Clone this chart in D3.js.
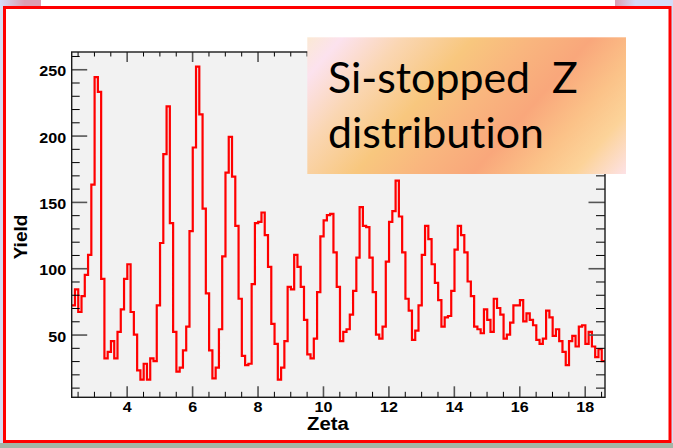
<!DOCTYPE html>
<html>
<head>
<meta charset="utf-8">
<script src="https://cdn.jsdelivr.net/npm/d3@7"></script>
<style>
  html, body { margin: 0; padding: 0; background: #fff; }
  svg { display: block; }
  .boxtitle { font-variant-ligatures: none; font-feature-settings: "liga" 0, "clig" 0; }
</style>
</head>
<body>
<div id="chart"></div>
<script>
// Si-stopped Z distribution, histogram of Zeta, 163 bins of 0.1
const xLow = 2.32, xHigh = 18.62;
const counts = [72,84,67,79,95,110,163,244,233,92,
  32,37,45,32,52,69,92,103,67,50,
  23,16,28,16,32,30,72,119,186,222,
  134,52,22,25,38,56,128,191,252,216,
  145,81,38,17,25,54,109,172,199,169,
  132,77,34,27,28,88,134,135,142,125,
  101,58,43,16,25,45,86,84,110,101,
  86,61,35,32,47,82,124,136,140,141,
  112,86,45,52,54,65,83,108,146,132,
  131,108,82,50,47,56,105,135,143,166,
  139,112,77,68,46,53,72,110,132,122,
  103,89,76,56,63,64,83,114,132,125,
  112,90,79,56,54,51,69,61,52,77,
  70,65,47,50,59,72,72,76,60,66,
  61,57,46,43,47,68,63,49,54,45,
  37,27,45,49,41,56,57,43,52,41,
  33,39,30];
const xTicks = [4, 6, 8, 10, 12, 14, 16, 18];
const yTicks = [50, 100, 150, 200, 250];
const yLow = 2.7, yHigh = 263;
const titleLines = ["Si-stopped  Z", "distribution"];

const W = 673, H = 448;
const frame = {left: 71.7, right: 605, top: 52, bottom: 397.3};

const svg = d3.select("#chart").append("svg").attr("width", W).attr("height", H);
const defs = svg.append("defs");

// page background
svg.append("rect").attr("width", W).attr("height", H).attr("fill", "#ffffff");
svg.append("rect").attr("x", 0).attr("y", 443).attr("width", W).attr("height", 5).attr("fill", "#a3b5a6");
svg.append("rect").attr("x", 0).attr("y", 0).attr("width", 3).attr("height", 443).attr("fill", "#d6dcf2");
svg.append("rect").attr("x", 671).attr("y", 0).attr("width", 2).attr("height", 443).attr("fill", "#d6dcf2");
const gl = defs.append("linearGradient").attr("id", "cornerL");
gl.append("stop").attr("offset", 0).attr("stop-color", "#d4dcf8");
gl.append("stop").attr("offset", 0.6).attr("stop-color", "#dc9fb2");
gl.append("stop").attr("offset", 1).attr("stop-color", "#dc9fb2");
const gr = defs.append("linearGradient").attr("id", "cornerR");
gr.append("stop").attr("offset", 0).attr("stop-color", "#dc9fb2");
gr.append("stop").attr("offset", 0.35).attr("stop-color", "#d4dcf8");
gr.append("stop").attr("offset", 1).attr("stop-color", "#d4dcf8");
svg.append("rect").attr("x", 0).attr("y", 0).attr("width", 41).attr("height", 6).attr("fill", "url(#cornerL)");
svg.append("rect").attr("x", 615).attr("y", 0).attr("width", 58).attr("height", 6).attr("fill", "url(#cornerR)");
svg.append("rect").attr("x", 4.5).attr("y", 7.5).attr("width", 665.5).attr("height", 434)
  .attr("fill", "#fff").attr("stroke", "#ff0000").attr("stroke-width", 3);

// scales
const x = d3.scaleLinear().domain([xLow, xHigh]).range([frame.left, frame.right]);
const y = d3.scaleLinear().domain([yLow, yHigh]).range([frame.bottom, frame.top]);
const binW = (xHigh - xLow) / counts.length;

svg.append("rect").attr("x", frame.left).attr("y", frame.top)
  .attr("width", frame.right - frame.left).attr("height", frame.bottom - frame.top)
  .attr("fill", "#f2f2f2");

// histogram outline
const pts = counts.map((c, i) => ({x: xLow + i * binW, y: c}));
pts.push({x: xHigh, y: counts[counts.length - 1]});
svg.append("path").datum(pts)
  .attr("fill", "none").attr("stroke", "#ff0000").attr("stroke-width", 2.2)
  .attr("d", d3.line().curve(d3.curveStepAfter).x(d => x(d.x)).y(d => y(d.y)));

// axes (ROOT style, ticks inside, on all four sides)
const minorX = d3.range(2.5, 18.6, 0.5).filter(v => v % 2 !== 0);
const majorX = [2].concat(xTicks).filter(v => v >= xLow);
const minorY = d3.range(10, 261, 10).filter(v => v % 50 !== 0);

function ticks(g, col, w) {
  g.select(".domain").remove();
  g.selectAll(".tick line").attr("stroke", col).attr("stroke-width", w);
}
const atBottom = `translate(0,${frame.bottom})`, atTop = `translate(0,${frame.top})`;
svg.append("g").attr("transform", atBottom)
  .call(d3.axisTop(x).tickValues(minorX).tickSize(5.5).tickFormat(""))
  .call(g => ticks(g, "#000", 1));
svg.append("g").attr("transform", atTop)
  .call(d3.axisBottom(x).tickValues(minorX).tickSize(4.5).tickFormat(""))
  .call(g => ticks(g, "#000", 1));
svg.append("g").attr("transform", atTop)
  .call(d3.axisBottom(x).tickValues(majorX).tickSize(10).tickFormat(""))
  .call(g => ticks(g, "#555", 1.6));
svg.append("g").attr("transform", atBottom)
  .call(d3.axisTop(x).tickValues(majorX).tickSize(11).tickFormat(""))
  .call(g => ticks(g, "#555", 1.6));
// x labels
svg.append("g").attr("transform", atBottom)
  .call(d3.axisBottom(x).tickValues(xTicks).tickSize(0).tickPadding(0))
  .call(g => {
    g.select(".domain").remove();
    g.selectAll(".tick text").attr("y", 0).attr("dy", null)
      .attr("transform", "translate(0,14.2) scale(1.15,1)")
      .attr("font-family", "Liberation Sans, Arial, sans-serif")
      .attr("font-weight", "bold").attr("font-size", 14).attr("fill", "#000");
  });

const atLeft = `translate(${frame.left},0)`, atRight = `translate(${frame.right},0)`;
svg.append("g").attr("transform", atLeft)
  .call(d3.axisRight(y).tickValues(minorY).tickSize(8).tickFormat(""))
  .call(g => ticks(g, "#000", 1));
svg.append("g").attr("transform", atRight)
  .call(d3.axisLeft(y).tickValues(minorY).tickSize(9).tickFormat(""))
  .call(g => ticks(g, "#000", 1));
svg.append("g").attr("transform", atRight)
  .call(d3.axisLeft(y).tickValues(yTicks).tickSize(16.5).tickFormat(""))
  .call(g => ticks(g, "#555", 1.6));
svg.append("g").attr("transform", atLeft)
  .call(d3.axisRight(y).tickValues(yTicks).tickSize(15.5).tickFormat(""))
  .call(g => ticks(g, "#555", 1.6));
// y labels
svg.append("g").attr("transform", atLeft)
  .call(d3.axisLeft(y).tickValues(yTicks).tickSize(0).tickPadding(0))
  .call(g => {
    g.select(".domain").remove();
    g.selectAll(".tick text").attr("x", 0).attr("dy", null).attr("text-anchor", "end")
      .attr("transform", "translate(-5.5,6.6) scale(1.15,1)")
      .attr("font-family", "Liberation Sans, Arial, sans-serif")
      .attr("font-weight", "bold").attr("font-size", 14).attr("fill", "#000");
  });

// frame
svg.append("rect").attr("x", frame.left).attr("y", frame.top)
  .attr("width", frame.right - frame.left).attr("height", frame.bottom - frame.top)
  .attr("fill", "none").attr("stroke", "#1a1a1a").attr("stroke-width", 1.4);

// axis titles
svg.append("text").attr("transform", "translate(328,430) scale(1.1,1)")
  .attr("text-anchor", "middle").attr("font-family", "Liberation Sans, Arial, sans-serif")
  .attr("font-weight", "bold").attr("font-size", 18.5).text("Zeta");
svg.append("text").attr("transform", "translate(26.5,237) rotate(-90)")
  .attr("text-anchor", "middle").attr("font-family", "Liberation Sans, Arial, sans-serif")
  .attr("font-weight", "bold").attr("font-size", 19).text("Yield");

// title box with diagonal gradient
const box = {x: 307.3, y: 37.3, w: 318.7, h: 136.7};
const tg = defs.append("linearGradient").attr("id", "titleGrad")
  .attr("gradientUnits", "userSpaceOnUse")
  .attr("x1", box.x).attr("y1", box.y).attr("x2", 555.5).attr("y2", 254.5);
[[0, "#fbe9d4"], [0.08, "#fce2ee"], [0.22, "#fad6b2"], [0.38, "#f8c77e"],
 [0.52, "#f9b57e"], [0.65, "#f9a77b"], [0.78, "#fbc288"], [0.88, "#fcd399"], [1, "#fde2e6"]]
  .forEach(([o, c]) => tg.append("stop").attr("offset", o).attr("stop-color", c));
svg.append("rect").attr("x", box.x).attr("y", box.y).attr("width", box.w).attr("height", box.h)
  .attr("fill", "url(#titleGrad)");
const t1 = svg.append("text").attr("class", "boxtitle").attr("x", 328).attr("y", 93)
  .attr("font-family", "Lato, 'Open Sans', sans-serif").attr("font-size", 42)
  .attr("xml:space", "preserve").style("white-space", "pre").text(titleLines[0]);
const t2 = svg.append("text").attr("class", "boxtitle").attr("x", 328).attr("y", 148)
  .attr("font-family", "Lato, 'Open Sans', sans-serif").attr("font-size", 42)
  .text(titleLines[1]);
// fit font size to the measured width of the first line
const w1 = t1.node().getComputedTextLength();
const fs = 42 * 250 / w1;
t1.attr("font-size", fs);
t2.attr("font-size", fs);
</script>
</body>
</html>
